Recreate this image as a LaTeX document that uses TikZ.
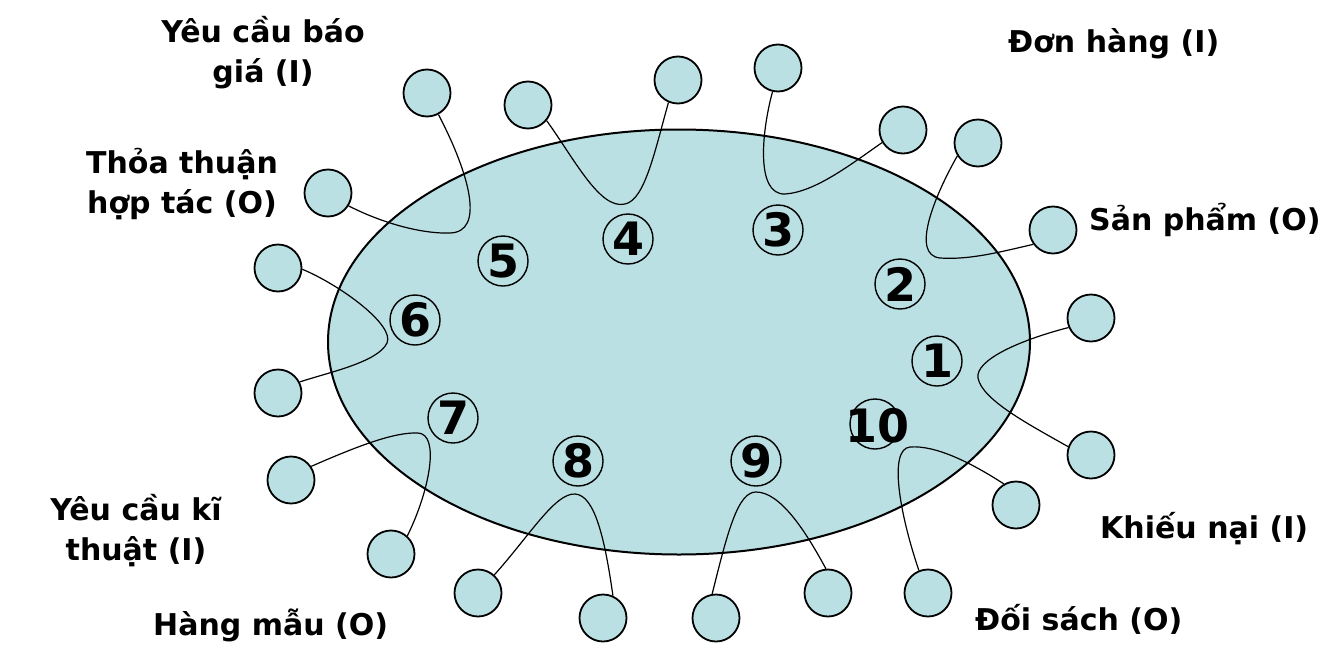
\documentclass[tikz,border=0pt]{standalone}
\usepackage{fontspec}
\setmainfont{DejaVu Sans}
\usetikzlibrary{shapes.geometric}
\definecolor{cellfill}{RGB}{186,224,227}
\tikzset{
 lbl/.style={font=\bfseries\fontsize{30}{40}\selectfont, inner sep=0pt, align=center},
 satel/.style={circle, draw, line width=1.8pt, fill=cellfill, minimum size=47pt, inner sep=0pt},
 numc/.style={circle, draw, line width=1.4pt, minimum size=50pt, inner sep=0pt},
 numt/.style={font=\bfseries\fontsize{46}{46}\selectfont, inner sep=0pt},
 link/.style={line width=1.2pt},
}
\begin{document}
\begin{tikzpicture}[x=1pt,y=-1pt]
\useasboundingbox (0,0) rectangle (1341,664);
\node[ellipse, draw, line width=2pt, fill=cellfill, minimum width=702pt, minimum height=425pt, inner sep=0pt] (cell) at (679,342) {};
% satellites
\node[satel] (s5a) at (427,93) {};
\node[satel] (s5b) at (328,193) {};
\node[satel] (s4a) at (528,105) {};
\node[satel] (s4b) at (678,80) {};
\node[satel] (s3a) at (778,68) {};
\node[satel] (s3b) at (903,130) {};
\node[satel] (s2a) at (978,143) {};
\node[satel] (s2b) at (1053,230) {};
\node[satel] (s1a) at (1091,318) {};
\node[satel] (s1b) at (1091,455) {};
\node[satel] (s10a) at (1016,505) {};
\node[satel] (s10b) at (928,593) {};
\node[satel] (s9a) at (716,618) {};
\node[satel] (s9b) at (828,593) {};
\node[satel] (s8a) at (478,593) {};
\node[satel] (s8b) at (603,618) {};
\node[satel] (s7a) at (291,480) {};
\node[satel] (s7b) at (391,554) {};
\node[satel] (s6a) at (278,268) {};
\node[satel] (s6b) at (278,393) {};
% connectors
\draw[link] (s5a.-62) .. controls (470,175) and (485,232) .. (450,233) .. controls (420,234) and (380,222) .. (s5b.-32);
\draw[link] (s4a.-40) .. controls (575,160) and (600,210) .. (625,204) .. controls (645,200) and (655,150) .. (s4b.-113);
\draw[link] (s3a.-103) .. controls (762,130) and (755,195) .. (785,194) .. controls (815,192) and (850,165) .. (s3b.-149);
\draw[link] (s2a.-148) .. controls (935,195) and (910,255) .. (940,258) .. controls (970,260) and (1000,252) .. (s2b.-144);
\draw[link] (s1a.-157) .. controls (1020,340) and (975,360) .. (978,378) .. controls (982,400) and (1030,425) .. (s1b.160);
\draw[link] (s10a.120) .. controls (970,462) and (935,445) .. (910,447) .. controls (888,449) and (900,515) .. (s10b.112);
\draw[link] (s9a.99) .. controls (728,530) and (738,492) .. (756,492) .. controls (780,492) and (805,530) .. (s9b.95);
\draw[link] (s8a.48) .. controls (530,535) and (555,493) .. (575,494) .. controls (595,495) and (605,540) .. (s8b.66);
\draw[link] (s7a.34) .. controls (360,445) and (395,432) .. (418,433) .. controls (440,434) and (430,490) .. (s7b.48);
\draw[link] (s6a.-3) .. controls (340,285) and (395,325) .. (387,343) .. controls (378,362) and (330,372) .. (s6b.27);
% numbered circles
\node[numc] (n1) at (937,361) {}; \node[numt] at (n1) {1};
\node[numc] (n2) at (900,284) {}; \node[numt] at (n2) {2};
\node[numc] (n3) at (778,230) {}; \node[numt] at (n3) {3};
\node[numc] (n4) at (628,239) {}; \node[numt] at (n4) {4};
\node[numc] (n5) at (503,261) {}; \node[numt] at (n5) {5};
\node[numc] (n6) at (415,320) {}; \node[numt] at (n6) {6};
\node[numc] (n7) at (453,418) {}; \node[numt] at (n7) {7};
\node[numc] (n8) at (578,461) {}; \node[numt] at (n8) {8};
\node[numc] (n9) at (756,461) {}; \node[numt] at (n9) {9};
\node[numc] (n10) at (875,424) {}; \node[numt] at (877,426) {10};
% labels
\node[lbl, anchor=base] (l5) at (263,82) {Yêu cầu báo\\giá (I)};
\node[lbl, anchor=base] (l6) at (182,213) {Thỏa thuận\\hợp tác (O)};
\node[lbl, anchor=base west] (l3) at (1008,52) {Đơn hàng (I)};
\node[lbl, anchor=base west] (l2) at (1089,230) {Sản phẩm (O)};
\node[lbl, anchor=base west] (l1) at (1100,538) {Khiếu nại (I)};
\node[lbl, anchor=base west] (l10) at (975,630) {Đối sách (O)};
\node[lbl, anchor=base west] (l8) at (153,635) {Hàng mẫu (O)};
\node[lbl, anchor=base] (l7) at (136,560) {Yêu cầu kĩ\\thuật (I)};
\end{tikzpicture}
\end{document}
